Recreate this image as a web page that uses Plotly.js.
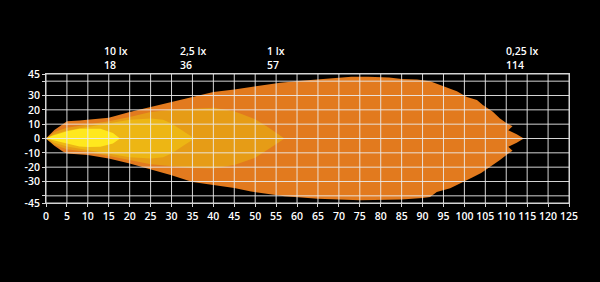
<!DOCTYPE html>
<html>
<head>
<meta charset="utf-8">
<script src="https://cdn.plot.ly/plotly-3.0.1.min.js"></script>
<style>html,body{margin:0;padding:0;background:#000;}#chart{width:600px;height:282px;}</style>
</head>
<body>
<div id="chart"></div>
<script>
// Isolux contours (distance in m vs lateral spread in m)
const outerUpperX = [0, 2, 4, 5, 8, 10, 15, 20, 25, 30, 35, 37, 40, 45, 49, 56, 61, 65.5, 70, 73, 77, 82, 85, 88.7, 91.8, 94.2, 98.2, 100.6, 103, 104.4, 106.8, 108.5, 110.2, 111.5, 110.5, 112.5, 114.2];
const outerUpperY = [0, 6, 10, 12, 12.5, 13, 14.5, 18.5, 22, 25.5, 28.6, 30.5, 32.5, 34.2, 36, 38.9, 40.3, 41.2, 42.5, 43, 43, 42.5, 41.5, 41.2, 40, 37.5, 33, 29, 26.8, 23.3, 18.6, 14, 10.5, 8.6, 5.8, 3, 0];
const outerLowerX = [0, 2, 4, 5, 10, 15, 20, 25, 30, 35, 40, 45, 49, 57, 65, 75, 85, 90, 91.8, 93.4, 96.6, 99.7, 102, 104, 106, 108.5, 110.5, 111.5, 110.5, 112.5, 114.2];
const outerLowerY = [0, -5, -9, -10.5, -11.5, -14, -17.5, -21.5, -25.6, -30.3, -32.5, -34.5, -37, -40.3, -42, -43.1, -42.6, -41.5, -40.8, -37.3, -34.7, -30.5, -27, -24, -20, -15, -10.5, -8.6, -5.8, -3, 0];

const oneLxX = [0, 2, 5, 10, 15, 20, 25, 30, 35, 40, 45, 50, 53, 55.5, 57];
const oneLxUpper = [0, 4.5, 7.5, 9.5, 12, 15, 18.5, 20, 21, 21.5, 19, 13.5, 8, 3, 0];
const oneLxLower = [0, -4.5, -7.5, -9.5, -12, -15, -18, -19.5, -20.5, -21, -18.5, -13.5, -8, -3, 0];

const twoFiveLxX = [0, 2, 5, 10, 15, 20, 25, 28, 30, 33, 35.5];
const twoFiveLxUpper = [0, 3, 5.5, 8, 10.5, 13, 14, 13, 10.5, 4.6, 0];
const twoFiveLxLower = [0, -3, -5.5, -8, -10.5, -13, -14, -13, -10.5, -4.7, 0];

const tenLxX = [0, 1.5, 3.3, 5, 8, 10, 13, 16, 17.7];
const tenLxUpper = [0, 2, 3.5, 5, 6.8, 7, 6.8, 3.8, 0];
const tenLxLower = [0, -1.5, -2.3, -3.5, -5.5, -6, -5.8, -3.5, 0];

const xTicks = [0,5,10,15,20,25,30,35,40,45,50,55,60,65,70,75,80,85,90,95,100,105,110,115,120,125];
const yTicks = [-45,-40,-30,-20,-10,0,10,20,30,40,45];
const yTickText = ['-45','','-30','-20','-10','0','10','20','30','','45'];

const luxLabels = ['10 lx','2,5 lx','1 lx','0,25 lx'];
const luxReach = [18, 36, 57, 114];

function polygon(xu, yu, xl, yl) {
  return {
    x: xu.concat(xl.slice().reverse()),
    y: yu.concat(yl.slice().reverse())
  };
}

const layers = [
  {p: polygon(outerUpperX, outerUpperY, outerLowerX, outerLowerY), c: '#E27A1E'},
  {p: polygon(oneLxX, oneLxUpper, oneLxX, oneLxLower), c: '#E69C16'},
  {p: polygon(twoFiveLxX, twoFiveLxUpper, twoFiveLxX, twoFiveLxLower), c: '#EDB614'},
  {p: polygon(tenLxX, tenLxUpper, tenLxX, tenLxLower), c: '#FFE81E'}
];

const traces = layers.map(l => ({
  type: 'scatter', mode: 'lines', x: l.p.x, y: l.p.y,
  fill: 'toself', fillcolor: l.c, line: {width: 0, color: l.c},
  hoverinfo: 'skip', showlegend: false
}));

const gridColor = 'rgba(235,235,235,0.9)';
const shapes = [];
xTicks.forEach(v => shapes.push({type:'line', xref:'x', yref:'paper', x0:v, x1:v, y0:0, y1:1, layer:'above', line:{color:gridColor, width:1}}));
yTicks.forEach(v => shapes.push({type:'line', xref:'paper', yref:'y', x0:0, x1:1, y0:v, y1:v, layer:'above', line:{color:gridColor, width:1}}));

const font = {family: 'Open Sans, sans-serif', size: 10.5, color: '#ffffff', weight: 600};

const annotations = luxLabels.map((t, i) => ({
  x: luxReach[i], xref: 'x', y: 1, yref: 'paper',
  text: t + '<br>' + luxReach[i], showarrow: false,
  xanchor: 'left', yanchor: 'bottom', align: 'left',
  xshift: -19, yshift: 0, font: font
}));

const layout = {
  width: 600, height: 282,
  margin: {l: 46, r: 31, t: 74, b: 79, pad: 0},
  paper_bgcolor: '#000', plot_bgcolor: '#000',
  showlegend: false,
  font: font,
  xaxis: {
    range: [0, 125], tickvals: xTicks, showgrid: false, zeroline: false,
    showline: true, linecolor: gridColor, linewidth: 1, mirror: true,
    ticks: 'outside', ticklen: 3, tickcolor: gridColor, tickfont: font,
    fixedrange: true
  },
  yaxis: {
    range: [-45, 45], tickvals: yTicks, ticktext: yTickText, showgrid: false, zeroline: false,
    showline: true, linecolor: gridColor, linewidth: 1, mirror: true,
    ticks: 'outside', ticklen: 3, tickcolor: gridColor, tickfont: font,
    fixedrange: true
  },
  shapes: shapes,
  annotations: annotations
};

Plotly.newPlot('chart', traces, layout, {displayModeBar: false, staticPlot: true});
</script>
</body>
</html>
